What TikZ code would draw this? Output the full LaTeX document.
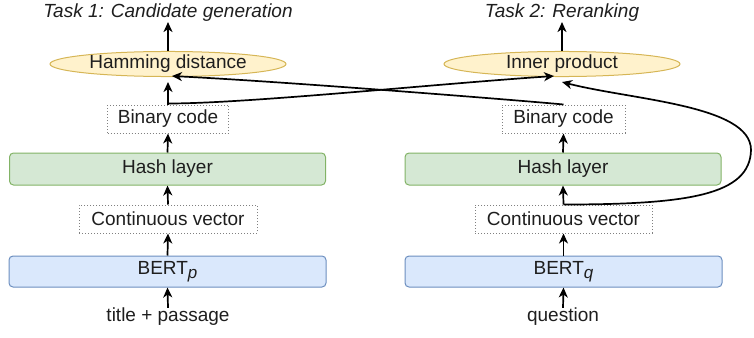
\documentclass[tikz,border=0pt]{standalone}
\usepackage{fontspec}
\setmainfont{Liberation Sans}
\usetikzlibrary{arrows.meta,shapes.geometric,calc}
\definecolor{gfill}{HTML}{D5E8D4}
\definecolor{gdraw}{HTML}{82B366}
\definecolor{bfill}{HTML}{DAE8FC}
\definecolor{bdraw}{HTML}{6C8EBF}
\definecolor{yfill}{HTML}{FFF2CC}
\definecolor{ydraw}{HTML}{D6B656}
\definecolor{txt}{HTML}{1E1E1E}
\newcommand{\subit}[1]{\raisebox{-0.45ex}{\fontsize{17}{17}\selectfont\itshape #1}}
\tikzset{
  base/.style={inner sep=0pt, text=txt, align=center},
  ell/.style={base, ellipse, draw=ydraw, fill=yfill, line width=1pt, minimum width=236pt, minimum height=25pt},
  dotbox/.style={base, draw=gray, dotted, line width=1pt, minimum height=28pt},
  hashbox/.style={base, draw=gdraw, fill=gfill, rounded corners=4pt, line width=1pt, minimum width=316pt, minimum height=32pt},
  bertbox/.style={base, draw=bdraw, fill=bfill, rounded corners=4pt, line width=1pt, minimum width=317pt, minimum height=31pt},
  tasklbl/.style={base, font=\fontsize{19}{22}\selectfont\itshape},
  plain/.style={base},
  arr/.style={draw=black, line width=1.7pt, -{Stealth[length=10pt,width=9pt,inset=3pt]}},
}
\begin{document}
\begin{tikzpicture}[x=1pt,y=-1pt,font=\fontsize{19}{22}\selectfont]
\useasboundingbox (0,0) rectangle (754,337);
% left column
\node[tasklbl] (t1) at (168,13) {Task 1: Candidate generation};
\node[ell] (ham) at (168,64) {Hamming distance};
\node[dotbox, minimum width=121pt] (bl) at (168,119) {Binary code};
\node[hashbox] (hl) at (167.5,169) {Hash layer};
\node[dotbox, minimum width=178pt] (cvl) at (168,219) {Continuous vector};
\node[bertbox] (bp) at (167.5,271.5) {BERT\subit{p}};
\node[plain] (tp) at (168,317) {title + passage};
% right column
\node[tasklbl] (t2) at (562,13) {Task 2: Reranking};
\node[ell] (ip) at (562,64) {Inner product};
\node[dotbox, minimum width=123pt] (br) at (563.5,119) {Binary code};
\node[hashbox] (hr) at (563,169) {Hash layer};
\node[dotbox, minimum width=177pt] (cvr) at (563.5,219) {Continuous vector};
\node[bertbox] (bq) at (563.5,271.5) {BERT\subit{q}};
\node[plain] (qu) at (563,317) {question};
\coordinate (rc) at (751,150);
% vertical arrows
\draw[arr] (tp.north) -- (bp.south);
\draw[arr] (bp.north) -- (cvl.south);
\draw[arr] (cvl.north) -- (hl.south);
\draw[arr] (hl.north) -- (bl.south);
\draw[arr] (bl.north) -- ([yshift=-5pt]ham.south);
\draw[arr] (ham.north) -- (t1.south);
\draw[arr] (qu.north) -- (bq.south);
\draw[arr] (bq.north) -- (cvr.south);
\draw[arr] (cvr.north) -- (hr.south);
\draw[arr] (hr.north) -- (br.south);
\draw[arr] (ip.north) -- (t2.south);
% crossing arrows
\draw[arr] ([yshift=1pt]bl.north) .. controls +(80,0) and +(-120,8) .. ($(ip.south)+(-8,-1)$);
\draw[arr] (br.north) .. controls +(-30,-3) and +(120,6) .. ($(ham.south)+(4,-1)$);
% big curve
\draw[arr] (cvr.north) .. controls +(125,0) and +(-1,45) .. (rc) .. controls +(0,-45) and +(70,18) .. ([yshift=-5pt]ip.south);
\end{tikzpicture}
\end{document}
